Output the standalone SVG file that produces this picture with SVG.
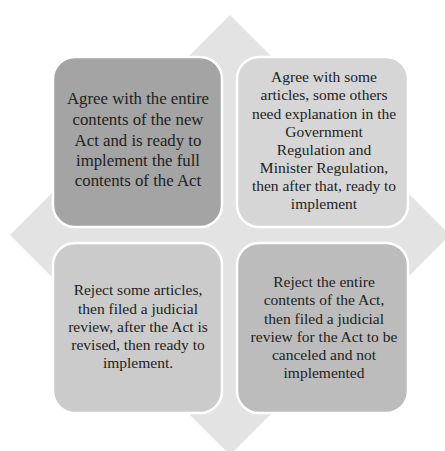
<svg xmlns="http://www.w3.org/2000/svg" width="445" height="451" viewBox="0 0 445 451">
<style>
.box{stroke:#ffffff;stroke-width:2.5}
.t{font-family:"Liberation Serif","Times New Roman",serif;fill:#222222;text-anchor:middle;font-size:15.5px}
.big{font-size:16.8px}
</style>
<rect width="445" height="451" fill="#ffffff"/>
<polygon id="diamond" points="230,15 450,235 230,455 10,235" fill="#e3e3e3"/>
<g id="connectors"></g>
<g id="n1">
<rect class="box" x="53" y="57" width="169" height="170" rx="22" fill="#a4a4a4"/>
<text class="t big" x="138"><tspan x="138" y="104">Agree with the entire</tspan><tspan x="138" y="125">contents of the new</tspan><tspan x="138" y="145.5">Act and is ready to</tspan><tspan x="138" y="166">implement the full</tspan><tspan x="138" y="186">contents of the Act</tspan></text>
</g>
<g id="n2">
<rect class="box" x="237" y="57" width="171" height="170" rx="22" fill="#d6d6d6"/>
<text class="t" x="324"><tspan x="324" y="82">Agree with some</tspan><tspan x="324" y="100">articles, some others</tspan><tspan x="324" y="118.5">need explanation in the</tspan><tspan x="324" y="136.5">Government</tspan><tspan x="324" y="154.5">Regulation and</tspan><tspan x="324" y="172.5">Minister Regulation,</tspan><tspan x="324" y="190.5">then after that, ready to</tspan><tspan x="324" y="208.5">implement</tspan></text>
</g>
<g id="n3">
<rect class="box" x="53" y="243" width="169" height="170" rx="22" fill="#cbcbcb"/>
<text class="t" x="138"><tspan x="138" y="295">Reject some articles,</tspan><tspan x="138" y="313.5">then filed a judicial</tspan><tspan x="138" y="331.5">review, after the Act is</tspan><tspan x="138" y="350">revised, then ready to</tspan><tspan x="138" y="368">implement.</tspan></text>
</g>
<g id="n4">
<rect class="box" x="237" y="243" width="171" height="170" rx="22" fill="#bcbcbc"/>
<text class="t" x="324"><tspan x="324" y="287">Reject the entire</tspan><tspan x="324" y="305">contents of the Act,</tspan><tspan x="324" y="323.5">then filed a judicial</tspan><tspan x="324" y="341.5">review for the Act to be</tspan><tspan x="324" y="359.5">canceled and not</tspan><tspan x="324" y="377.5">implemented</tspan></text>
</g>
</svg>
